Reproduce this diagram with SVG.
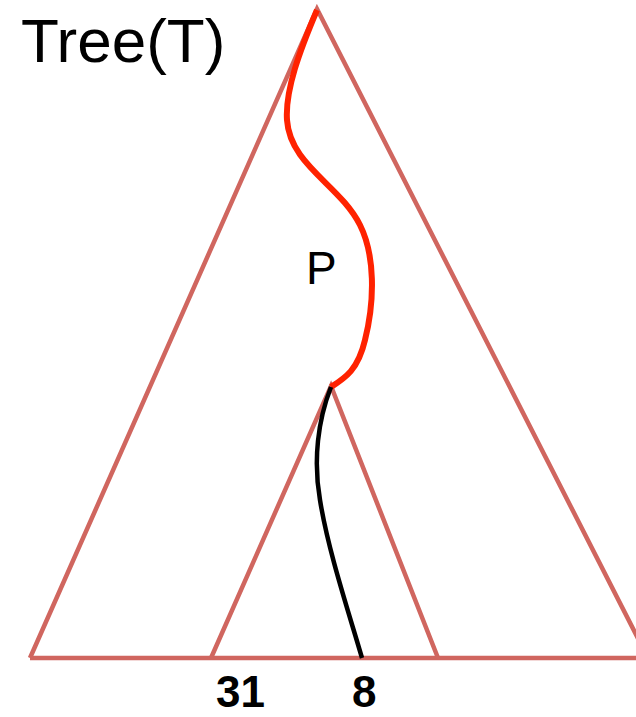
<svg xmlns="http://www.w3.org/2000/svg" width="636" height="717" viewBox="0 0 636 717">
<style>
.tri{fill:none;stroke:#d0665f;stroke-width:4.5;stroke-linejoin:miter}
.lbl{font-family:"Liberation Sans",Arial,sans-serif;fill:#000}
</style>
<rect width="636" height="717" fill="#fff"/>
<g id="tree">
<polyline class="tri" points="30,658 317,9 648,658"/>
<line class="tri" x1="30" y1="658" x2="640" y2="658"/>
</g>
<g id="subtree">
<polyline class="tri" points="211,658 331,386 438,658"/>
</g>
<g id="connectors">
<path id="pathP" d="M317,10 C300,50 285,90 287,120 C290,165 340,185 360,225 C375,255 375,300 365,340 C358,370 345,378 331,387" fill="none" stroke="#ff2200" stroke-width="6"/>
<path id="path8" d="M331,387 C318,420 313,460 320,500 C328,550 348,610 362,658" fill="none" stroke="#000" stroke-width="4.5"/>
</g>
<text class="lbl" x="21" y="62" font-size="62">Tree(T)</text>
<text class="lbl" x="306" y="284" font-size="46">P</text>
<text class="lbl" x="216" y="707" font-size="44" font-weight="bold">31</text>
<text class="lbl" x="352" y="707" font-size="44" font-weight="bold">8</text>
</svg>
